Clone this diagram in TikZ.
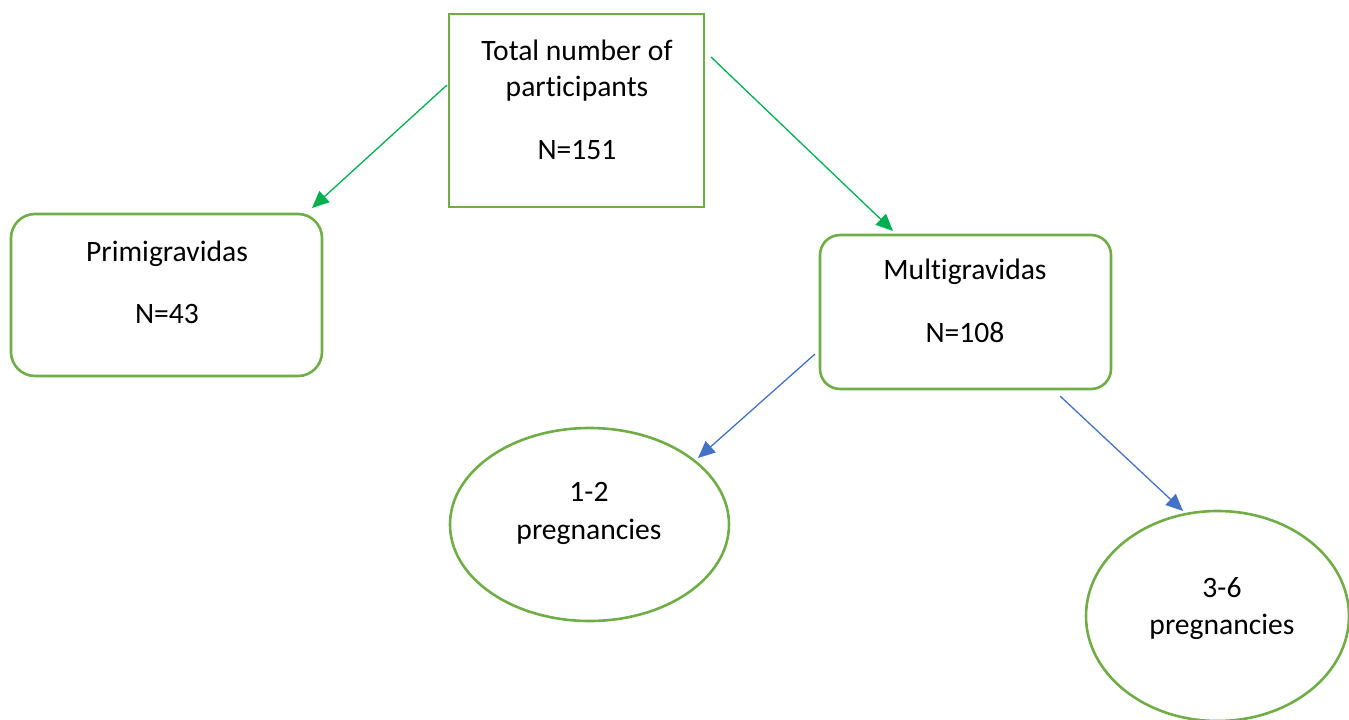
\documentclass[tikz,border=0pt]{standalone}
\usepackage{fontspec}
\setmainfont[Ligatures=NoCommon]{Carlito}
\usetikzlibrary{shapes.geometric,arrows.meta}
\definecolor{boxgreen}{HTML}{70AD47}
\definecolor{arrgreen}{HTML}{00B050}
\definecolor{arrblue}{HTML}{4472C4}
\begin{document}
\begin{tikzpicture}[x=1pt,y=-1pt,
  shapebox/.style={draw=boxgreen,line width=2.6pt,inner sep=0pt},
  txt/.style={font=\fontsize{29.6}{36}\selectfont,inner sep=0pt,text=black},
  garrow/.style={draw=arrgreen,line width=1.3pt,-{Triangle[length=17pt,width=15pt]}},
  barrow/.style={draw=arrblue,line width=1.3pt,-{Triangle[length=17pt,width=15pt]}}]
\useasboundingbox (0,0) rectangle (1349,720);
\begin{scope}
\clip (0,0) rectangle (1349,720);
% shapes
\node[shapebox,rectangle,minimum width=255pt,minimum height=193pt] (total) at (576.5,110.5) {};
\node[shapebox,rectangle,rounded corners=24pt,minimum width=311pt,minimum height=162pt] (primi) at (166.5,295) {};
\node[shapebox,rectangle,rounded corners=20pt,minimum width=291pt,minimum height=154pt] (multi) at (965.5,312) {};
\node[shapebox,ellipse,minimum width=279pt,minimum height=193pt] (one) at (589.5,524.5) {};
\node[shapebox,ellipse,minimum width=263pt,minimum height=210pt] (three) at (1217.5,616) {};
\end{scope}
% texts
\node[txt] (t1) at (577,50) {Total number of};
\node[txt] (t2) at (577,89) {participants};
\node[txt] (t3) at (577,150) {N=151};
\node[txt] (p1) at (167,254) {Primigravidas};
\node[txt] (p2) at (167,314) {N=43};
\node[txt] (m1) at (965,272) {Multigravidas};
\node[txt] (m2) at (965,332) {N=108};
\node[txt] (o1) at (589,492) {1-2};
\node[txt] (o2) at (589,532) {pregnancies};
\node[txt] (h1) at (1222,588) {3-6};
\node[txt] (h2) at (1222,627) {pregnancies};
% connector ends
\coordinate (a1s) at (447,85);
\coordinate (a1e) at (312,208);
\coordinate (a2s) at (711,57);
\coordinate (a2e) at (893,231);
\coordinate (b1s) at (815,354);
\coordinate (b1e) at (698,458);
\coordinate (b2s) at (1060,396);
\coordinate (b2e) at (1183,511);
\draw[garrow] (a1s) -- (a1e);
\draw[garrow] (a2s) -- (a2e);
\draw[barrow] (b1s) -- (b1e);
\draw[barrow] (b2s) -- (b2e);
\end{tikzpicture}
\end{document}
